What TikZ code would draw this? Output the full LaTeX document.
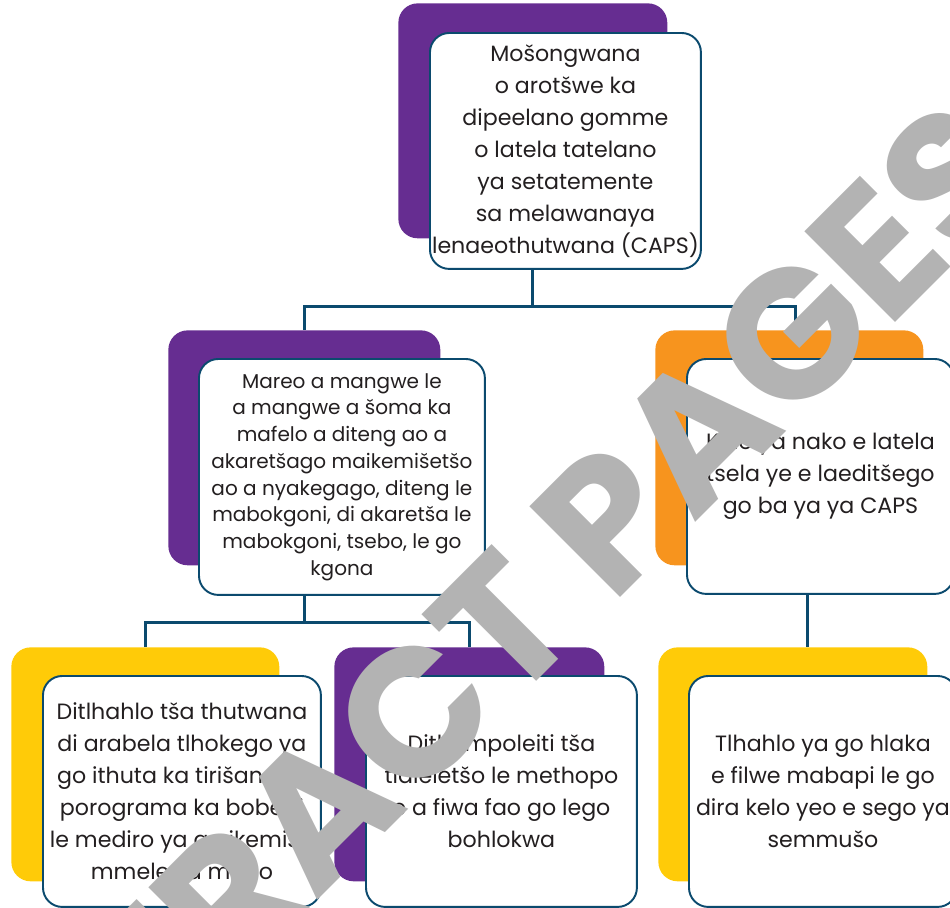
\documentclass[tikz,border=0pt]{standalone}
\usepackage{fontspec}
\setmainfont{Poppins}
\newfontfamily\wmfont{Poppins}
\usetikzlibrary{positioning}
\definecolor{mapurple}{RGB}{102,45,145}
\definecolor{maorange}{RGB}{247,148,30}
\definecolor{mayellow}{RGB}{255,203,8}
\definecolor{maline}{RGB}{11,74,110}
\definecolor{matext}{RGB}{35,31,32}
\definecolor{mawater}{RGB}{179,179,179}

\begin{document}
\begin{tikzpicture}[x=0.02cm, y=-0.02cm,
    backbox/.style={rounded corners=11pt, anchor=north west, inner sep=0pt, minimum height=4.70cm},
    card/.style={draw=maline, line width=1.1pt, fill=white, rounded corners=11pt, anchor=north west, inner sep=0pt,
      minimum height=4.72cm, align=center, text=matext, font=\fontsize{12.6}{18.2}\selectfont},
    link/.style={draw=maline, line width=1.7pt}
  ]
  \useasboundingbox (0,0) rectangle (950,907);

  % coloured boxes behind the cards
  \node[backbox, fill=mapurple, minimum width=5.38cm] (topBack) at (398,3) {};
  \node[backbox, fill=mapurple, minimum width=5.44cm] (leftBack) at (168,330) {};
  \node[backbox, fill=maorange, minimum width=5.36cm] (rightBack) at (655,330) {};
  \node[backbox, fill=mayellow, minimum width=5.36cm, minimum height=4.68cm] (blBack) at (11,647) {};
  \node[backbox, fill=mapurple, minimum width=5.40cm, minimum height=4.68cm] (bmBack) at (334,647) {};
  \node[backbox, fill=mayellow, minimum width=5.38cm, minimum height=4.68cm] (brBack) at (658,647) {};

  % top level
  \node[card, minimum width=5.42cm] (topCard) at (429,32) {
    Mošongwana\\
    o arotšwe ka\\
    dipeelano gomme\\
    o latela tatelano\\
    ya setatemente\\
    sa melawanaya\\
    lenaeothutwana (CAPS)
  };

  % second level
  \node[card, minimum width=5.72cm, font=\fontsize{11.4}{15.2}\selectfont] (leftCard) at (198,358) {
    Mareo a mangwe le\\
    a mangwe a šoma ka\\
    mafelo a diteng ao a\\
    akaretšago maikemišetšo\\
    ao a nyakegago, diteng le\\
    mabokgoni, di akaretša le\\
    mabokgoni, tsebo, le go\\
    kgona
  };
  \node[card, minimum width=5.34cm, minimum height=4.70cm] (rightCard) at (686,358) {
    Kelo ya nako e latela\\
    tsela ye e laeditšego\\
    go ba ya ya CAPS
  };

  % third level
  \node[card, minimum width=5.56cm, minimum height=4.62cm] (blCard) at (42,675) {
    Ditlhahlo tša thutwana\\
    di arabela tlhokego ya\\
    go ithuta ka tirišano, le\\
    porograma ka bobedi\\
    le mediro ya go ikemiša\\
    mmele ka mono
  };
  \node[card, minimum width=5.42cm, minimum height=4.62cm] (bmCard) at (365,675) {
    Dithempoleiti tša\\
    tlaleletšo le methopo\\
    e a fiwa fao go lego\\
    bohlokwa
  };
  \node[card, minimum width=5.36cm, minimum height=4.62cm] (brCard) at (688,675) {
    Tlhahlo ya go hlaka\\
    e filwe mabapi le go\\
    dira kelo yeo e sego ya\\
    semmušo
  };

  % connectors
  \coordinate (j1) at (534,306);
  \coordinate (j2) at (303,622);
  \coordinate (j3) at (807,620);
  \coordinate (j4) at (795,330);
  \draw[link] (topBack.south |- topCard.south) -- (topBack.south |- j1);
  \draw[link] (leftBack.north) |- (j1) -| (j4);
  \draw[link] (leftBack.south |- leftCard.south) -- (leftBack.south |- j2);
  \draw[link] (blBack.north) |- (j2) -| (bmBack.north);
  \draw[link] (rightCard.south -| j3) -- (brBack.north -| j3);

  % watermark
  \node[rotate=45, text=mawater, font=\wmfont\bfseries\fontsize{104}{104}\selectfont] (stamp) at (469,658) {EXTRACT PAGES};
\end{tikzpicture}
\end{document}
